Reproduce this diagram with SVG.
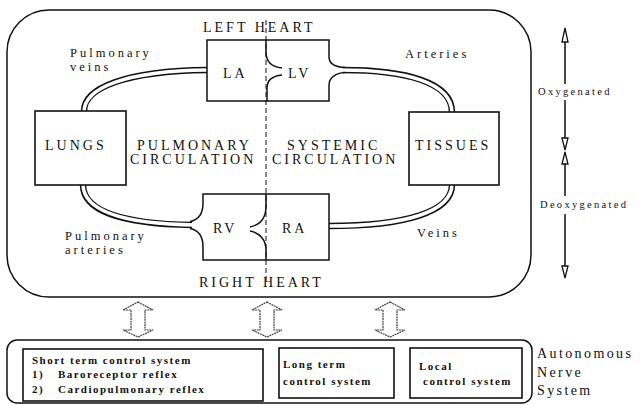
<svg xmlns="http://www.w3.org/2000/svg" width="640" height="405" viewBox="0 0 640 405">
<defs>
<style>
.t{font-family:"Liberation Serif","DejaVu Serif","Times New Roman",serif;fill:#111}
.cap{font-size:14px;letter-spacing:3px}
.lab{font-size:12.5px;letter-spacing:3px}
.sm{font-size:10.5px;letter-spacing:2.3px}
.b{font-size:11px;font-weight:bold;letter-spacing:1.5px}
.box{fill:#fff;stroke:#111;stroke-width:1.6}
.ln{fill:none;stroke:#111;stroke-width:1.5}
.tubeo{fill:none;stroke:#111;stroke-width:6.4}
.tubei{fill:none;stroke:#fff;stroke-width:3.6}
.head{fill:#fff;stroke:#111;stroke-width:1.3}
.blk{fill:#fff;stroke:#444;stroke-width:1.2;stroke-dasharray:2 0.6}
</style>
</defs>
<rect width="640" height="405" fill="#fff"/>

<g id="outer"><rect x="7" y="10" width="524" height="287" rx="42" ry="42" class="ln"/></g>

<g id="connectors">
<path class="tubeo" d="M84 111 C84 88,125 71,207 70"/>
<path class="tubeo" d="M343 70 C405 70,452 82,452 112"/>
<path class="tubeo" d="M83 185 C83 212,125 224,192 225"/>
<path class="tubeo" d="M452 185 C452 212,405 226,329 226"/>
<path class="tubei" d="M84 112 C84 88,125 71,207 70"/>
<path class="tubei" d="M340 70 C405 70,452 82,452 113"/>
<path class="tubei" d="M83 184 C83 212,125 224,196 225"/>
<path class="tubei" d="M452 184 C452 212,405 226,329 226"/>
<path d="M266 20 L266 282" fill="none" stroke="#111" stroke-width="1" stroke-dasharray="5 3"/>
</g>

<g id="lungs"><rect x="35" y="111" width="91" height="74" class="box"/>
<text class="t cap" x="45" y="150">LUNGS</text></g>

<g id="tissues"><rect x="409" y="112" width="90" height="73" class="box"/>
<text class="t cap" x="415" y="150">TISSUES</text></g>

<g id="left-heart">
<path class="ln" d="M329 57 L329 40 L207 40 L207 101 L329 101 L329 85"/>
<path class="ln" d="M329 57 C329 64,335 67,345 67.5"/>
<path class="ln" d="M329 85 C329 78,335 73,345 72.5"/>
<path class="ln" d="M266 40 L266 52 C266 62,272 67,282 68"/>
<path class="ln" d="M282 75 C272 76,267 80,267 88 L267 101"/>
<text class="t cap" x="223" y="78">LA</text>
<text class="t cap" x="288" y="78">LV</text>
</g>

<g id="right-heart">
<path class="ln" d="M190 221.5 C198 220,203 214,203 203 L203 194 L329 194 L329 260 L203 260 L203 247 C203 236,198 230,190 228.5"/>
<path class="ln" d="M266 194 L266 206 C266 218,260 225,250 227"/>
<path class="ln" d="M250 231 C260 233,266 240,266 250 L266 260"/>
<text class="t cap" x="213" y="233">RV</text>
<text class="t cap" x="282" y="233">RA</text>
</g>

<g id="labels">
<text class="t cap" x="203" y="32">LEFT HEART</text>
<text class="t cap" x="199" y="287">RIGHT HEART</text>
<text class="t cap" x="137" y="150">PULMONARY</text>
<text class="t cap" x="130" y="164">CIRCULATION</text>
<text class="t cap" x="287" y="150">SYSTEMIC</text>
<text class="t cap" x="272" y="164">CIRCULATION</text>
<text class="t lab" x="70" y="57">Pulmonary</text>
<text class="t lab" x="70" y="71">veins</text>
<text class="t lab" x="405" y="58">Arteries</text>
<text class="t lab" x="65" y="240">Pulmonary</text>
<text class="t lab" x="65" y="254">arteries</text>
<text class="t lab" x="417" y="237">Veins</text>
</g>

<g id="oxygen-scale">
<path class="ln" d="M565 42 L565 84 M565 100 L565 138 M565 163 L565 196 M565 214 L565 266" stroke-width="1.2"/>
<path class="head" d="M565 28 L568 42 L562 42 Z"/>
<path class="head" d="M565 150 L568 138 L562 138 Z"/>
<path class="head" d="M565 152 L568 164 L562 164 Z"/>
<path class="head" d="M565 278 L568 266 L562 266 Z"/>
<text class="t sm" x="538" y="95">Oxygenated</text>
<text class="t sm" x="540" y="208">Deoxygenated</text>
</g>

<g id="block-arrows">
<path class="blk" d="M138 302 L153 310 L145 310 L145 330 L153 330 L138 337 L123 330 L131 330 L131 310 L123 310 Z"/>
<path class="blk" d="M267 302 L282 310 L274 310 L274 330 L282 330 L267 337 L252 330 L260 330 L260 310 L252 310 Z"/>
<path class="blk" d="M390 302 L405 310 L397 310 L397 330 L405 330 L390 337 L375 330 L383 330 L383 310 L375 310 Z"/>
</g>

<g id="control">
<rect x="7" y="340" width="525" height="63" rx="10" ry="10" class="ln"/>
<g id="short-term">
<rect x="23" y="349" width="240" height="52" class="box" stroke-width="1.2"/>
<text class="t b" x="32" y="364">Short term control system</text>
<text class="t b" x="32" y="378">1)</text>
<text class="t b" x="58" y="378">Baroreceptor reflex</text>
<text class="t b" x="32" y="393">2)</text>
<text class="t b" x="58" y="393">Cardiopulmonary reflex</text>
</g>
<g id="long-term">
<rect x="279" y="348" width="115" height="50" class="box" stroke-width="1.2"/>
<text class="t b" x="283" y="368">Long term</text>
<text class="t b" x="283" y="385">control system</text>
</g>
<g id="local">
<rect x="410" y="348" width="112" height="50" class="box" stroke-width="1.2"/>
<text class="t b" x="419" y="370">Local</text>
<text class="t b" x="423" y="385">control system</text>
</g>
</g>

<g id="ans-label">
<text class="t" font-size="14" letter-spacing="2.4" x="537" y="358">Autonomous</text>
<text class="t" font-size="14" letter-spacing="2.4" x="537" y="377">Nerve</text>
<text class="t" font-size="14" letter-spacing="2.4" x="537" y="395">System</text>
</g>
</svg>
